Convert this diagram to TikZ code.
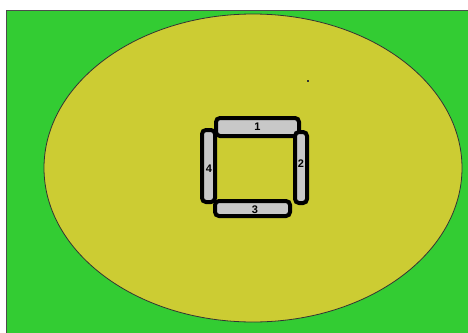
\documentclass[tikz,border=0pt]{standalone}
\usepackage{fontspec}
\setmainfont{Liberation Sans}
\definecolor{field}{RGB}{51,204,51}
\definecolor{pitch}{RGB}{204,204,51}
\definecolor{bargray}{RGB}{200,200,200}
\tikzset{
  barbox/.style={draw=black,fill=bargray,line width=4pt,rounded corners=4pt},
  barlabel/.style={font=\fontsize{11}{13}\selectfont\bfseries,inner sep=0pt}
}
\begin{document}
\begin{tikzpicture}[x=1pt,y=-1pt]
\useasboundingbox (0,0) rectangle (468,332);
\fill[white] (0,0) rectangle (468,332);
\draw[fill=field,draw=black!70,line width=1pt] (6.5,10.5) rectangle (470,334);
\draw[fill=pitch,draw=black!80,line width=0.8pt] (253,168) ellipse [x radius=209, y radius=154];
\fill[black!80] (306.5,79.5) rectangle (308.5,81.5);
\draw[barbox] (202,130) rectangle (215,202);
\draw[barbox] (216,118) rectangle (299,136);
\draw[barbox] (295,132) rectangle (307,203);
\draw[barbox] (215,201) rectangle (290,216);
\node[barlabel] (l1) at (257.5,126.5) {1};
\node[barlabel] (l2) at (301,164) {2};
\node[barlabel] (l3) at (255,210) {3};
\node[barlabel] (l4) at (209,169) {4};
\end{tikzpicture}
\end{document}
